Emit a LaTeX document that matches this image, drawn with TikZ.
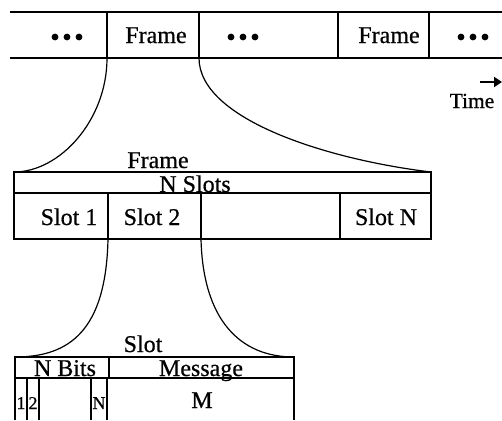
\documentclass[tikz,border=0pt]{standalone}
\usepackage{fontspec}
\setmainfont[FakeBold=0.6]{Liberation Serif}
\usetikzlibrary{arrows.meta}
\tikzset{
  lbl/.style={inner sep=0pt, anchor=base, font=\fontsize{24}{28}\selectfont},
  small/.style={inner sep=0pt, anchor=base, font=\fontsize{18}{21}\selectfont},
  rule/.style={line width=2pt},
  heavy/.style={line width=2.6pt},
  sep/.style={line width=1.3pt},
  link/.style={line width=1.2pt},
  dot/.style={circle, fill=black, inner sep=0pt, minimum size=6.8pt}
}
\begin{document}
\begin{tikzpicture}[x=1pt, y=-1pt, line cap=butt]
\useasboundingbox (0,0) rectangle (502,420);

% ---------- time line of frames ----------
\draw[rule]  (10,12) -- (502,12);
\draw[heavy] (10,58) -- (502,58);
\foreach \xx in {107,199,338,429} \draw[sep] (\xx,12) -- (\xx,58);
\coordinate (fL) at (107,58);
\coordinate (fR) at (199,58);

\foreach \cx/\nm in {67/a,243/b,473/c}{
  \node[dot] (\nm1) at (\cx-12,37) {};
  \node[dot] (\nm2) at (\cx,37) {};
  \node[dot] (\nm3) at (\cx+12,37) {};
}
\node[lbl] (topframe1) at (156,43) {Frame};
\node[lbl] (topframe2) at (389,43) {Frame};

\coordinate (tA) at (480,82);
\coordinate (tB) at (502,82);
\draw[line width=2.2pt, -{Triangle[length=8pt,width=10pt]}] (tA) -- (tB);
\node[lbl, font=\fontsize{21.5}{24}\selectfont] (time) at (472,108) {Time};

% ---------- one frame: N slots ----------
\coordinate (frTL) at (14,172);
\coordinate (frTR) at (431,172);
\draw[rule] (14,172) -- (431,172) -- (431,239) -- (14,239) -- cycle;
\draw[rule] (14,193) -- (431,193);
\foreach \xx in {108,201,340} \draw[sep] (\xx,193) -- (\xx,239);
\coordinate (sL) at (108,239);
\coordinate (sR) at (201,239);

\node[lbl] (framehead) at (158,168) {Frame};
\node[lbl] (nslots) at (195,192) {N Slots};
\node[lbl] (slot1) at (69,225) {Slot 1};
\node[lbl] (slot2) at (152,225) {Slot 2};
\node[lbl] (slotn) at (386,225) {Slot N};

\draw[link] (fL) .. controls (107,120) and (60,172) .. (frTL);
\draw[link] (fR) .. controls (199,120) and (330,160) .. (frTR);

% ---------- one slot: N bits + message ----------
\coordinate (slTL) at (15,357);
\coordinate (slTR) at (294,357);
\draw[rule] (15,420) -- (15,357) -- (294,357) -- (294,420);
\draw[rule] (15,378) -- (294,378);
\draw[sep] (109,357) -- (109,378);
\draw[line width=2.6pt] (15,378) -- (15,420);
\foreach \xx in {27,39,91} \draw[sep] (\xx,378) -- (\xx,420);
\draw[line width=2.2pt] (107,378) -- (107,420);

\node[lbl] (slothead) at (143,352) {Slot};
\node[lbl] (nbits) at (65,376) {N Bits};
\node[lbl] (message) at (201,376) {Message};
\node[small] (b1) at (21,409) {1};
\node[small] (b2) at (33,409) {2};
\node[small] (bn) at (99,409) {N};
\node[lbl] (msgm) at (202,408) {M};

\draw[link] (sL) .. controls (106,330) and (70,357) .. (slTL);
\draw[link] (sR) .. controls (203,320) and (240,357) .. (slTR);
\end{tikzpicture}
\end{document}
